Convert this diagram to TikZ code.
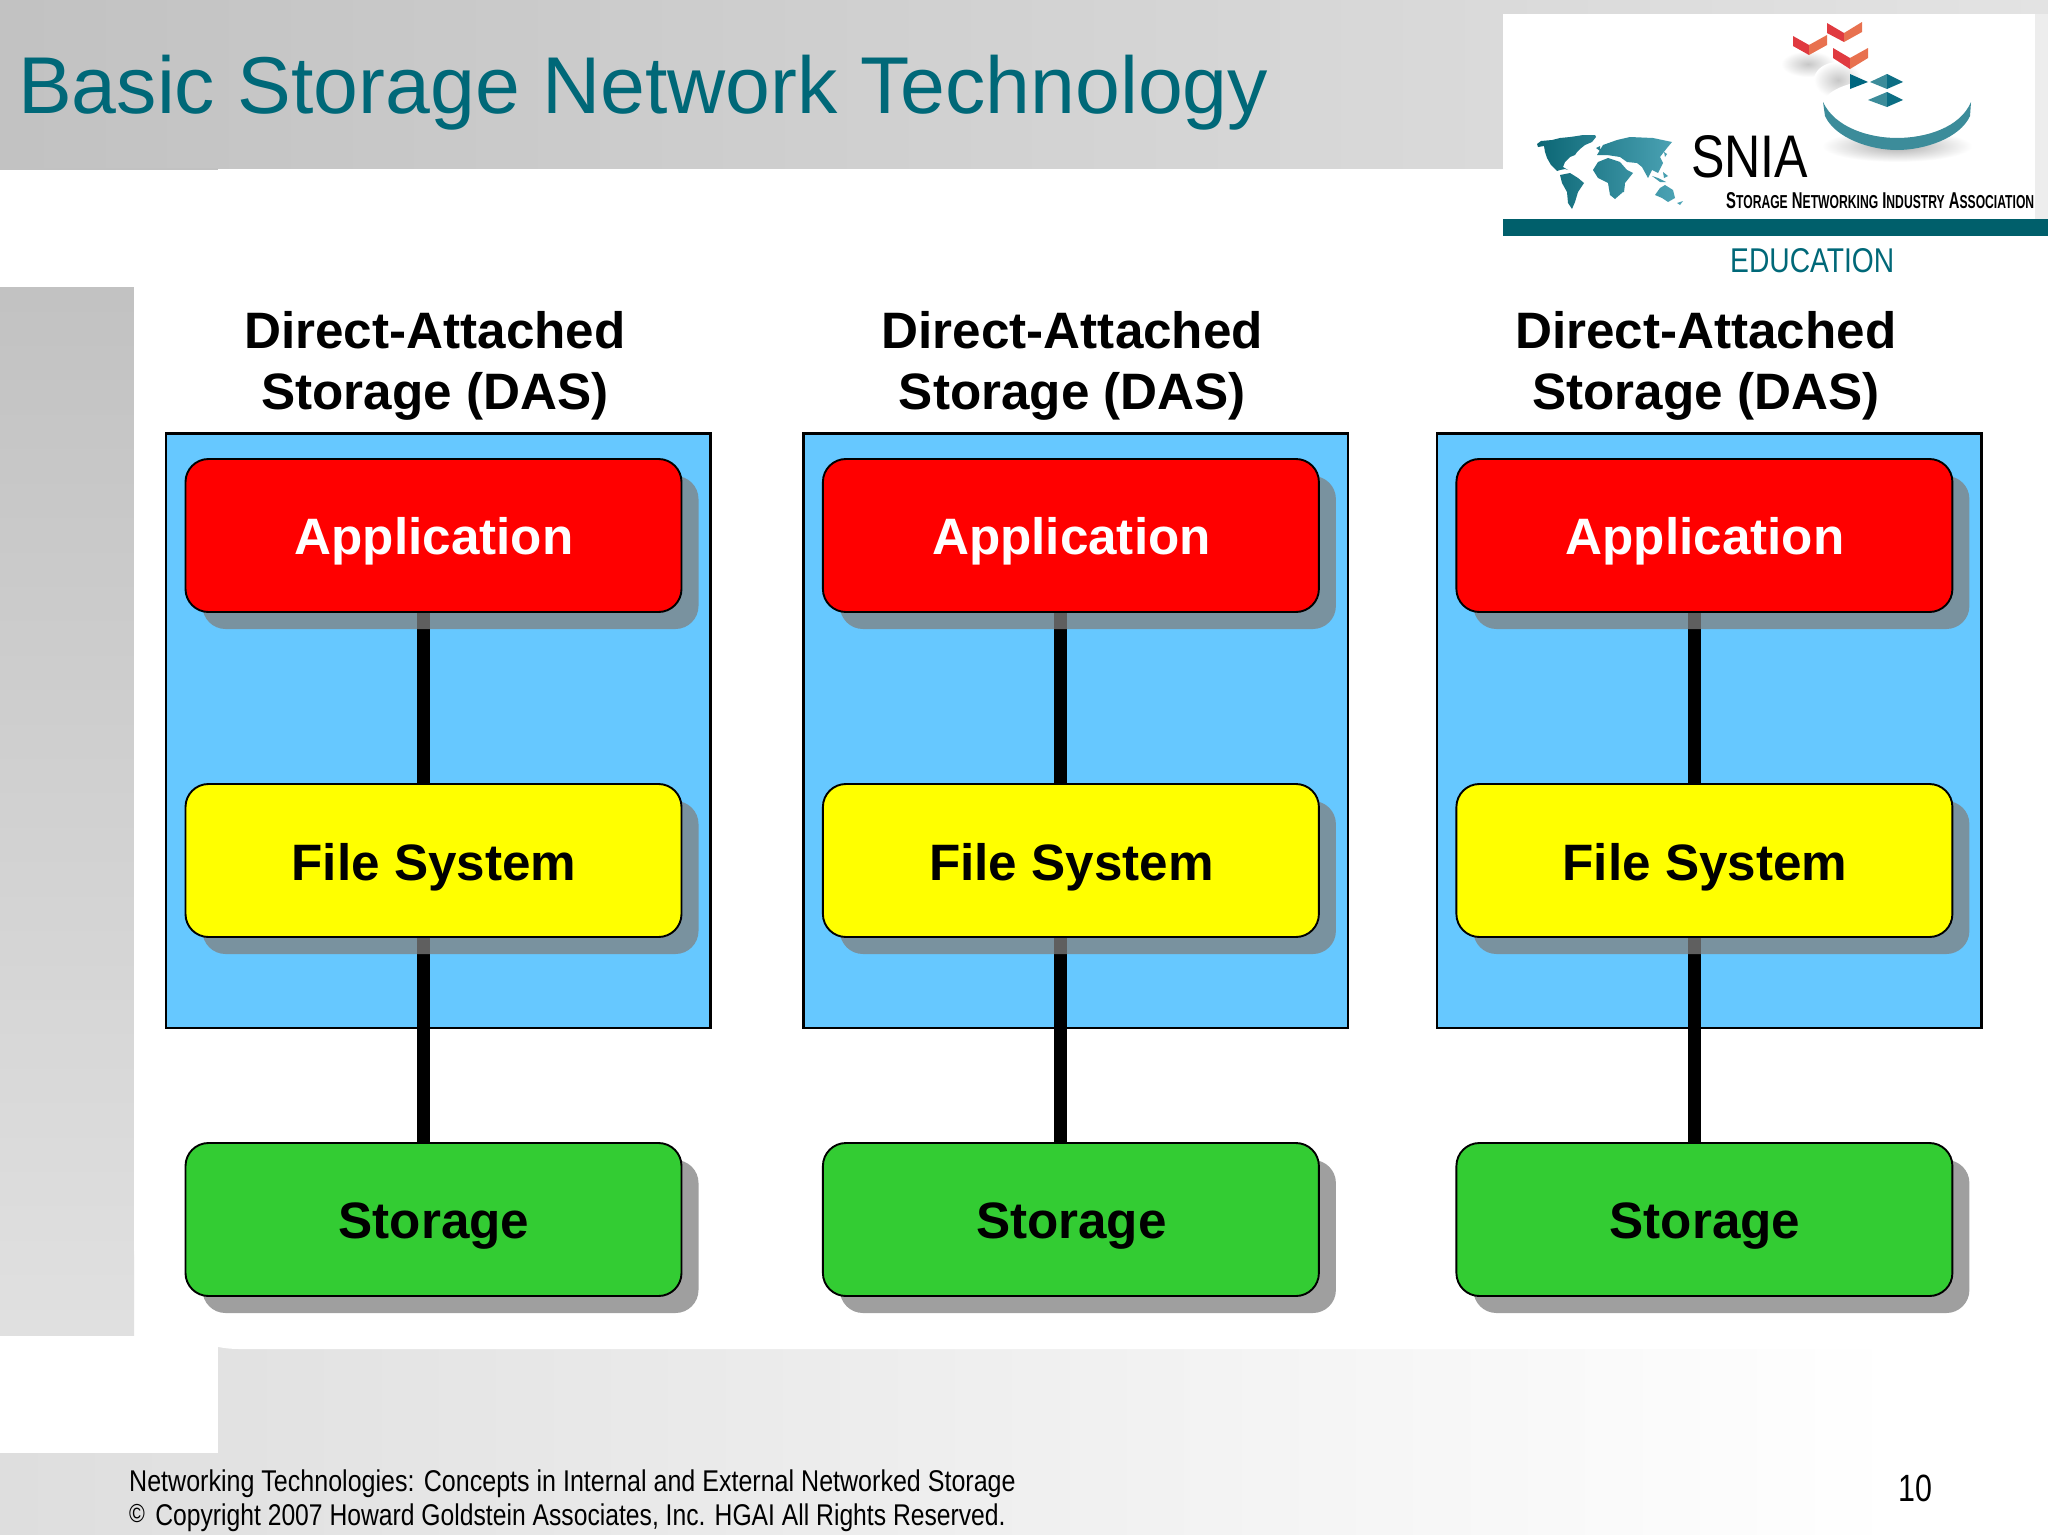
\documentclass[tikz,border=0pt]{standalone}
\usepackage{fontspec}
\setmainfont{Liberation Sans}
\newfontfamily\narrowf[FakeStretch=0.80]{Liberation Sans}
\newfontfamily\footf[FakeStretch=0.835]{Liberation Sans}
\newfontfamily\footg[FakeStretch=0.823]{Liberation Sans}
\usetikzlibrary{backgrounds}
\definecolor{teal1}{HTML}{006878}
\definecolor{panelblue}{HTML}{66C8FF}
\definecolor{grn}{HTML}{33CC33}
\definecolor{ylw}{HTML}{FFFF00}
\definecolor{rd}{HTML}{FF0000}
\definecolor{redL}{HTML}{E03A40}
\definecolor{redR}{HTML}{E8714F}
\definecolor{tealD}{HTML}{00667F}
\definecolor{tealM}{HTML}{3C8C9A}
\definecolor{barteal}{HTML}{005F6B}
\definecolor{mapL}{HTML}{0B6674}
\definecolor{mapR}{HTML}{4FA6B8}
\pgfdeclarelayer{bgl}\pgfdeclarelayer{panl}\pgfdeclarelayer{conl}\pgfdeclarelayer{shal}
\pgfsetlayers{bgl,panl,conl,shal,main}
\tikzset{
  box/.style={draw=black,line width=1.9pt,rounded corners=23pt,minimum width=496pt,minimum height=153pt,inner sep=0pt,outer sep=0pt,anchor=north west},
  panelbox/.style={draw=black,line width=2.2pt,fill=panelblue},
  heading/.style={font=\fontsize{51.2}{61.4}\selectfont\bfseries,align=center,inner sep=0pt},
  boxtext/.style={inner sep=0pt,font=\fontsize{51.2}{61}\selectfont\bfseries},
  shadowbox/.style={fill=black!50,opacity=0.75,rounded corners=23pt},
  link/.style={line width=13pt,black},
  footer/.style={font=\fontsize{30}{34}\selectfont,anchor=west,inner sep=0pt},
}
\begin{document}
\begin{tikzpicture}[x=1pt,y=-1pt]
\useasboundingbox (0,0) rectangle (2048,1534);
\begin{pgfonlayer}{bgl}
\fill[white] (0,0) rectangle (2048,1534);
% banner
\shade[left color=black!24,right color=black!11] (0,0) rectangle (2048,168);
\fill[black!24] (0,168) rectangle (218,170);
\fill[black!7] (2035,14) rectangle (2048,219);
% left bar
\shade[top color=black!24,bottom color=black!12] (0,287) rectangle (134,1340);
% bottom band
\shade[left color=black!13,right color=white] (0,1340) rectangle (1900,1534);
% white slide area with its round corner
\fill[white] (134,287) -- (134,1244) .. controls (134,1302) and (181,1349) .. (239,1349) -- (2048,1349) -- (2048,287) -- cycle;
\fill[white] (0,1336) rectangle (218,1453);
% logo
\fill[white] (1503,14) rectangle (2035,219);
\fill[white] (1503,236) rectangle (2048,287);
\fill[barteal] (1503,219) rectangle (2048,236);
\end{pgfonlayer}
% title
\node[anchor=base west,inner sep=0pt,text=teal1,font=\fontsize{80.6}{90}\selectfont] (title) at (18,113) {Basic Storage Network Technology};
% logo art: map
\shade[left color=mapL,right color=mapR]
 (1537,144)--(1541,141)--(1552,140)--(1560,138)--(1570,137)--(1577,136)--(1583,135)--(1595,135)--(1596,137)--(1592,142)--(1585,145)--(1580,149)--(1577,152)--(1575,155)--(1570,157)--(1565,162)--(1563,167)--(1568,170)--(1565,169)--(1560,170)--(1557,171)--(1551,165)--(1547,158)--(1545,152)--(1544,146)--(1538,147)--cycle
 (1560,175)--(1570,173)--(1578,178)--(1584,183)--(1578,192)--(1575,202)--(1572,209)--(1568,203)--(1567,192)--(1562,183)--cycle
 (1598,162)--(1608,158)--(1620,162)--(1627,170)--(1633,173)--(1625,183)--(1623,192)--(1615,199)--(1610,195)--(1608,183)--(1598,178)--(1593,170)--cycle
 (1597,155)--(1603,145)--(1617,140)--(1630,137)--(1653,138)--(1672,142)--(1667,148)--(1660,157)--(1663,163)--(1658,173)--(1652,170)--(1648,178)--(1642,167)--(1637,163)--(1627,162)--(1620,157)--(1607,155)--cycle
 (1655,195)--(1660,188)--(1665,185)--(1673,190)--(1675,198)--(1668,202)--(1662,198)--cycle
 (1652,176)--(1658,178)--(1666,182)--(1660,182)--cycle
 (1663,172)--(1668,176)--(1664,178)--cycle
 (1677,203)--(1683,201)--(1680,205)--cycle
 (1664,152)--(1667,154)--(1665,157)--cycle
 (1596,148)--(1600,146)--(1600,151)--cycle
 (1622,186)--(1625,184)--(1624,192)--(1621,192)--cycle;
% logo text
\node[anchor=base west,inner sep=0pt] (snia) at (1691,177) {\resizebox{117pt}{42pt}{SNIA}};
\node[anchor=base west,inner sep=0pt] (assoc) at (1726,208) {\resizebox{308pt}{16pt}{\fontsize{22}{24}\selectfont\bfseries S{\fontsize{18}{20}\selectfont TORAGE} N{\fontsize{18}{20}\selectfont ETWORKING} I{\fontsize{18}{20}\selectfont NDUSTRY} A{\fontsize{18}{20}\selectfont SSOCIATION}}};
\node[anchor=base west,inner sep=0pt,text=teal1] (edu) at (1730,272) {\resizebox{164pt}{24pt}{EDUCATION}};
% logo art: shadows, disc, chevrons
\shade[inner color=black!22,outer color=white] (1808,64) ellipse (27pt and 13pt);
\shade[inner color=black!22,outer color=white] (1838,80) ellipse (24pt and 18pt);
\shade[inner color=black!32,outer color=white] (1897,146) ellipse (75pt and 16pt);
\fill[white] (1823,102) .. controls (1835,70) and (1960,70) .. (1971,102) .. controls (1960,128) and (1925,138) .. (1897,138) .. controls (1870,138) and (1835,128) .. (1823,102) -- cycle;
\fill[tealM] (1823,102) .. controls (1835,128) and (1870,138) .. (1897,138) .. controls (1925,138) and (1960,128) .. (1971,102) -- (1970,116) .. controls (1960,138) and (1925,150) .. (1897,150) .. controls (1870,150) and (1835,138) .. (1825,116) -- cycle;
\fill[redL] (1793,36)--(1809,45)--(1809,55)--(1793,46)--cycle;
\fill[redR] (1809,45)--(1827,35)--(1827,45)--(1809,55)--cycle;
\fill[redL] (1827,23)--(1844,33)--(1844,42)--(1827,33)--cycle;
\fill[redR] (1844,33)--(1862,22)--(1862,32)--(1844,42)--cycle;
\fill[redL] (1833,48)--(1850,58)--(1850,69)--(1833,58)--cycle;
\fill[redR] (1850,58)--(1868,48)--(1868,58)--(1850,69)--cycle;
\fill[tealD] (1850,74)--(1868,82)--(1850,89)--cycle;
\fill[tealM] (1870,82)--(1887,74)--(1887,89)--cycle;
\fill[tealD!80!tealM] (1887,74)--(1903,82)--(1887,89)--cycle;
\fill[tealM] (1868,100)--(1887,92)--(1887,107)--cycle;
\fill[tealD!80!tealM] (1887,92)--(1903,100)--(1887,107)--cycle;
% diagram
\foreach \i/\dx in {1/0,2/637.4,3/1270.9}{
  \begin{scope}[shift={(\dx,0)}]
  \node[heading] (head\i) at (435,366) {Direct-Attached\\Storage (DAS)};
  \node[box,fill=rd] (app\i) at (185.5,459) {};
  \node[box,fill=ylw] (fs\i) at (185.5,784) {};
  \node[box,fill=grn] (st\i) at (185.5,1143) {};
  \node[boxtext,text=white] (appt\i) at (434,541.5) {Application};
  \node[boxtext] (fst\i) at (434,867) {File System};
  \node[boxtext] (stt\i) at (434,1226) {Storage};
  \begin{pgfonlayer}{panl}
    \draw[panelbox] (166,433.5) rectangle (710.5,1028);
  \end{pgfonlayer}
  \begin{pgfonlayer}{conl}
    \draw[link] ([xshift=-10.4pt]app\i.south) -- ([xshift=-10.4pt]fs\i.north);
    \draw[link] ([xshift=-10.4pt]fs\i.south) -- ([xshift=-10.4pt]st\i.north);
  \end{pgfonlayer}
  \begin{pgfonlayer}{shal}
    \fill[shadowbox] ([xshift=17pt,yshift=-17pt]app\i.south west) rectangle ([xshift=17pt,yshift=-17pt]app\i.north east);
    \fill[shadowbox] ([xshift=17pt,yshift=-17pt]fs\i.south west) rectangle ([xshift=17pt,yshift=-17pt]fs\i.north east);
    \fill[shadowbox] ([xshift=17pt,yshift=-17pt]st\i.south west) rectangle ([xshift=17pt,yshift=-17pt]st\i.north east);
  \end{pgfonlayer}
  \end{scope}
}
% footer
\node[footer] (foot1) at (129,1483.5) {\footf Networking Technologies: Concepts in Internal and External Networked Storage};
\node[footer] (foot2) at (129,1517.5) {{\footg\fontsize{26}{26}\selectfont\raisebox{3pt}{©}}\hspace{2pt} \footg Copyright 2007 Howard Goldstein Associates, Inc. HGAI All Rights Reserved.};
\node[inner sep=0pt,font=\fontsize{38}{40}\selectfont\narrowf] (pageno) at (1915,1488) {10};
\end{tikzpicture}
\end{document}
